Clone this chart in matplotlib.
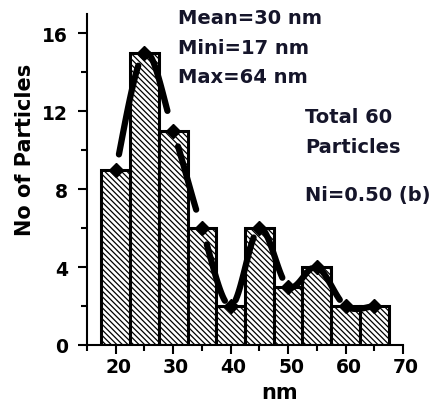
import numpy as np
import matplotlib
matplotlib.use("Agg")
import matplotlib.pyplot as plt
import matplotlib.transforms as mtransforms
from matplotlib.ticker import MultipleLocator

plt.rcParams['font.family'] = ['DejaVu Sans']
plt.rcParams['hatch.linewidth'] = 0.9

# particle size histogram (bin centres in nm, counts)
sizes = [20, 25, 30, 35, 40, 45, 50, 55, 60, 65]
counts = [9, 15, 11, 6, 2, 6, 3, 4, 2, 2]
bin_width = 5

stats_lines = ["Mean=30 nm", "Mini=17 nm", "Max=64 nm"]
total_lines = ["Total 60", "Particles"]
sample_label = "Ni=0.50 (b)"

W, H = 438, 406
fig = plt.figure(figsize=(W / 100, H / 100), dpi=100)
ax = fig.add_axes([87 / W, 1 - 346 / H, 316 / W, 331 / H])

ax.bar(sizes, counts, width=bin_width, color='white', edgecolor='black',
       linewidth=2.2, hatch='\\' * 6, zorder=2)

# smooth curve through the bar tops (Catmull-Rom), drawn as broken pieces
x = np.array(sizes, float)
y = np.array(counts, float)


def catmull(i, t):
    n = len(x) - 1
    p0 = np.array([x[max(i - 1, 0)], y[max(i - 1, 0)]])
    p1 = np.array([x[i], y[i]])
    p2 = np.array([x[i + 1], y[i + 1]])
    p3 = np.array([x[min(i + 2, n)], y[min(i + 2, n)]])
    t = t[:, None]
    return 0.5 * ((2 * p1) + (-p0 + p2) * t
                  + (2 * p0 - 5 * p1 + 4 * p2 - p3) * t ** 2
                  + (-p0 + 3 * p1 - 3 * p2 + p3) * t ** 3)


for i in range(len(x) - 1):
    t = np.linspace(0.17, 0.8, 40)
    pts = catmull(i, t)
    ax.plot(pts[:, 0], pts[:, 1], color='black', lw=4.5,
            solid_capstyle='round', zorder=3)

ax.plot(sizes, counts, linestyle='none', marker='D', markersize=7,
        color='black', zorder=4)

ax.set_xlim(15, 70)
ax.set_ylim(0, 17)
ax.xaxis.set_major_locator(MultipleLocator(10))
ax.xaxis.set_minor_locator(MultipleLocator(5))
ax.yaxis.set_major_locator(MultipleLocator(4))
ax.yaxis.set_minor_locator(MultipleLocator(2))
for s in ['top', 'right']:
    ax.spines[s].set_visible(False)
for s in ['left', 'bottom']:
    ax.spines[s].set_linewidth(1.5)
ax.tick_params(which='major', direction='out', length=6.5, width=1.5,
               labelsize=13.5)
ax.tick_params(which='minor', direction='out', length=4, width=1.5)
ax.tick_params(axis='x', which='major', pad=2)
ax.tick_params(axis='y', which='major', pad=7)
shift = mtransforms.ScaledTranslation(3 / 100, 0, fig.dpi_scale_trans)
for lab in ax.get_xticklabels():
    lab.set_fontweight('bold')
    lab.set_transform(lab.get_transform() + shift)
for lab in ax.get_yticklabels():
    lab.set_fontweight('bold')

ax.set_xlabel('nm', fontsize=15, fontweight='bold')
ax.xaxis.label.set_va('baseline')
ax.xaxis.set_label_coords((280 - 87) / 316, (346 - 399) / 331)
ax.set_ylabel('No of Particles', fontsize=15, fontweight='bold')
ax.yaxis.label.set_va('center')
ax.yaxis.set_label_coords((25 - 87) / 316, (346 - 150) / 331)

txt_col = '#15152a'
for s, base in zip(stats_lines, [24, 53.5, 83]):
    fig.text(178 / W, 1 - base / H, s, fontsize=14, fontweight='bold',
             color=txt_col, va='baseline', ha='left')
for s, base in zip(total_lines, [123, 153]):
    fig.text(305 / W, 1 - base / H, s, fontsize=14, fontweight='bold',
             color=txt_col, va='baseline', ha='left')
fig.text(305 / W, 1 - 201 / H, sample_label, fontsize=14, fontweight='bold',
         color=txt_col, va='baseline', ha='left')

fig.savefig('out.png', dpi=100)
